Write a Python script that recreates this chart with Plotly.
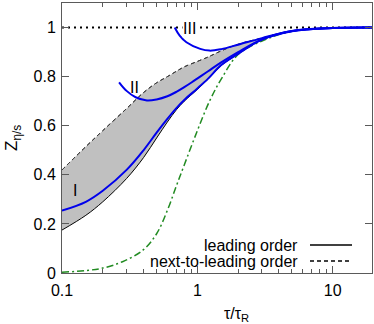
import math
import plotly.graph_objects as go

# ---- data ----
x_band = [0.1, 0.15, 0.2, 0.3, 0.4, 0.5, 0.6, 0.7, 0.8, 1.0, 1.2, 1.5, 2, 3, 5, 10, 20]
y_nlo = [0.42, 0.515, 0.58, 0.67, 0.735, 0.775, 0.80, 0.822, 0.84, 0.862, 0.88, 0.905, 0.932, 0.957, 0.986, 0.998, 1.0]
y_lo = [0.175, 0.235, 0.29, 0.385, 0.47, 0.55, 0.615, 0.665, 0.70, 0.748, 0.79, 0.845, 0.892, 0.95, 0.985, 0.998, 1.0]

x_I = [0.1, 0.15, 0.2, 0.3, 0.4, 0.5, 0.6, 0.7, 0.8, 1.0, 1.2, 1.5, 2, 3, 5, 10, 20]
y_I = [0.254, 0.29, 0.335, 0.42, 0.50, 0.572, 0.628, 0.672, 0.705, 0.752, 0.792, 0.847, 0.893, 0.951, 0.985, 0.998, 1.0]

x_II = [0.264, 0.3, 0.35, 0.424, 0.5, 0.6, 0.7, 0.8, 0.91, 1.2, 1.5, 2, 3, 5, 10, 20]
y_II = [0.777, 0.742, 0.716, 0.703, 0.707, 0.72, 0.738, 0.757, 0.777, 0.822, 0.858, 0.90, 0.952, 0.986, 0.998, 1.0]

x_III = [0.68, 0.74, 0.83, 1.05, 1.23, 1.5, 2, 3, 5, 10, 20]
y_III = [1.0, 0.967, 0.94, 0.913, 0.906, 0.912, 0.93, 0.957, 0.986, 0.998, 1.0]

x_green = [0.1, 0.15, 0.2, 0.28, 0.4, 0.5, 0.6, 0.7, 0.8, 1.0, 1.23, 1.5, 2, 3, 5, 10, 20]
y_green = [0.003, 0.01, 0.02, 0.046, 0.095, 0.16, 0.255, 0.355, 0.44, 0.58, 0.70, 0.79, 0.89, 0.945, 0.985, 0.998, 1.0]

x_ref = [0.1, 20]
y_ref = [1.0, 1.0]

x_major = [0.1, 1, 10]
x_major_text = ["0.1", "1", "10"]
y_major = [0, 0.2, 0.4, 0.6, 0.8, 1.0]
y_major_text = ["0", "0.2", "0.4", "0.6", "0.8", "1"]

labels = [("I", 0.125, 0.337, False), ("II", 0.346, 0.757, False), ("III", 0.88, 0.997, True)]
legend_items = [("leading order", "solid"), ("next-to-leading order", "4px,3px")]

FONT = "Liberation Sans, Arial, Helvetica, sans-serif"
FS = 16
BLUE = "rgb(0,0,235)"
GREEN = "rgb(34,139,34)"

fig = go.Figure()

# dotted reference line at 1
fig.add_trace(go.Scatter(x=x_ref, y=y_ref, mode="lines",
                         line=dict(color="black", width=2, dash="2px,4px"),
                         showlegend=False, hoverinfo="skip"))

# NLO (upper bound, dashed)
fig.add_trace(go.Scatter(x=x_band, y=y_nlo, mode="lines",
                         line=dict(color="rgb(60,60,60)", width=1, dash="4px,3px", shape="spline"),
                         showlegend=False, hoverinfo="skip"))
# LO (lower bound, solid) with fill to NLO
fig.add_trace(go.Scatter(x=x_band, y=y_lo, mode="lines", fill="tonexty",
                         fillcolor="rgb(192,192,192)",
                         line=dict(color="black", width=1, shape="spline"),
                         showlegend=False, hoverinfo="skip"))
# redraw NLO dashed on top of fill
fig.add_trace(go.Scatter(x=x_band, y=y_nlo, mode="lines",
                         line=dict(color="rgb(60,60,60)", width=1, dash="4px,3px", shape="spline"),
                         showlegend=False, hoverinfo="skip"))

# green dash-dot
fig.add_trace(go.Scatter(x=x_green, y=y_green, mode="lines",
                         line=dict(color=GREEN, width=1.5, dash="7px,3px,2px,3px", shape="spline"),
                         showlegend=False, hoverinfo="skip"))

# blue curves
for xs, ys in [(x_I, y_I), (x_II, y_II), (x_III, y_III)]:
    fig.add_trace(go.Scatter(x=xs, y=ys, mode="lines",
                             line=dict(color=BLUE, width=2, shape="spline"),
                             showlegend=False, hoverinfo="skip"))

for txt, lx, ly, bg in labels:
    fig.add_annotation(x=math.log10(lx), y=ly, xref="x", yref="y", text=txt, showarrow=False,
                       font=dict(family=FONT, size=FS, color="black"),
                       bgcolor="white" if bg else "rgba(0,0,0,0)", borderpad=0)

# legend (text right, sample on right)
L, R, T, B = 62, 372, 3, 273
W, H = R - L, B - T
def px(p):
    return (p - L) / W
def py(p):
    return (B - p) / H

rows = [245, 261]
for (txt, dash), ry in zip(legend_items, rows):
    fig.add_annotation(x=px(300), y=py(ry), xref="paper", yref="paper", text=txt,
                       showarrow=False, xanchor="right", yanchor="middle",
                       font=dict(family=FONT, size=FS, color="black"))
    fig.add_shape(type="line", xref="paper", yref="paper",
                  x0=px(310), x1=px(352), y0=py(ry), y1=py(ry),
                  line=dict(color="black", width=1.5, dash=dash))

# axis titles
fig.add_annotation(x=px(236), y=py(314), xref="paper", yref="paper",
                   text="τ/τ<sub>R</sub>", showarrow=False, xanchor="center", yanchor="middle",
                   font=dict(family=FONT, size=FS, color="black"))
fig.add_annotation(x=px(13), y=py(138), xref="paper", yref="paper",
                   text="Z<sub>η/s</sub>", showarrow=False, textangle=-90,
                   xanchor="center", yanchor="middle",
                   font=dict(family=FONT, size=17, color="black"))

fig.update_xaxes(type="log", range=[-1, 1.29], showgrid=False, zeroline=False,
                 showline=True, linecolor="rgb(90,90,90)", linewidth=1, mirror="ticks",
                 ticks="inside", ticklen=7, tickcolor="rgb(90,90,90)",
                 ticklabelstandoff=3,
                 tickvals=x_major, ticktext=x_major_text,
                 tickfont=dict(family=FONT, size=FS, color="black"),
                 minor=dict(ticks="inside", ticklen=4, tickcolor="rgb(90,90,90)", dtick="D1", showgrid=False))
fig.update_yaxes(range=[0, 1.1], showgrid=False, zeroline=False,
                 showline=True, linecolor="rgb(90,90,90)", linewidth=1, mirror="ticks",
                 ticks="inside", ticklen=7, tickcolor="rgb(90,90,90)",
                 ticklabelstandoff=2,
                 tickvals=y_major, ticktext=y_major_text,
                 tickfont=dict(family=FONT, size=FS, color="black"))

fig.update_layout(width=374, height=324, margin=dict(l=L, r=374 - R, t=T, b=324 - B),
                  plot_bgcolor="white", paper_bgcolor="white", showlegend=False)

fig.write_html("out.html", config={"displayModeBar": False},
               post_script="document.body.style.margin='0px';document.body.style.overflow='hidden';")
